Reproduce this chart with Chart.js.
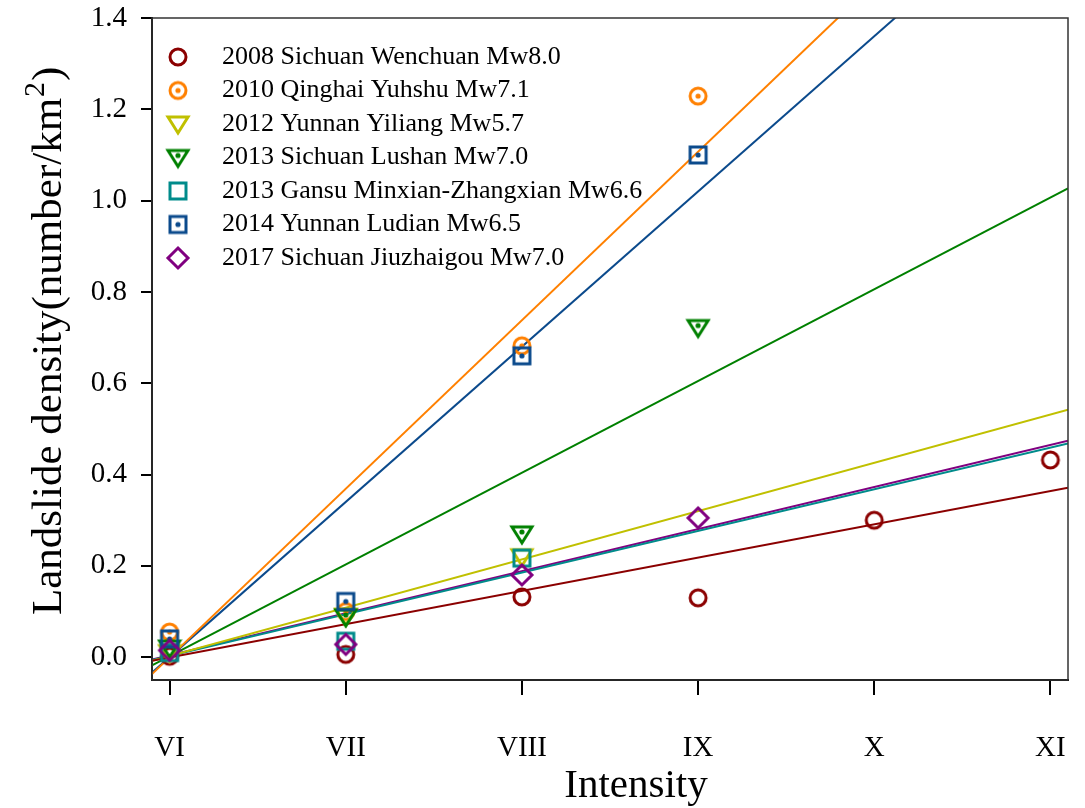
<!DOCTYPE html>
<html>
<head>
<meta charset="utf-8">
<title>Landslide density vs intensity</title>
<script src="https://cdn.jsdelivr.net/npm/chart.js@4.4.0/dist/chart.umd.min.js"></script>
<style>
  html, body { margin: 0; padding: 0; background: #fff; }
</style>
</head>
<body>
<canvas id="chart" width="1085" height="808"></canvas>
<script>
// axes
const intensityLabels = ['VI', 'VII', 'VIII', 'IX', 'X', 'XI'];
const intensityValues = [6, 7, 8, 9, 10, 11];
const densityTicks = [0, 0.2, 0.4, 0.6, 0.8, 1.0, 1.2, 1.4];
const xTitle = 'Intensity';
const yTitle = 'Landslide density(number/km';   // followed by superscript 2 and ')'

// earthquakes
const quakeNames = [
  '2008 Sichuan Wenchuan Mw8.0',
  '2010 Qinghai Yuhshu Mw7.1',
  '2012 Yunnan Yiliang Mw5.7',
  '2013 Sichuan Lushan Mw7.0',
  '2013 Gansu Minxian-Zhangxian Mw6.6',
  '2014 Yunnan Ludian Mw6.5',
  '2017 Sichuan Jiuzhaigou Mw7.0'
];
const quakeColors = ['#8b0000', '#ff8000', '#c0c000', '#008000', '#008b8b', '#0b4a8c', '#800080'];

// landslide density per intensity, starting at VI
const wenchuan   = [0.002, 0.006, 0.132, 0.130, 0.300, 0.432];
const yushu      = [0.055, 0.100, 0.682, 1.229];
const yiliang    = [0.010, 0.090, 0.220];
const lushan     = [0.020, 0.088, 0.270, 0.722];
const minxian    = [0.010, 0.035, 0.217];
const ludian     = [0.040, 0.122, 0.660, 1.100];
const jiuzhaigou = [0.015, 0.028, 0.180, 0.305];

// linear fits: value at the left and right ends of the x axis
const fitX = [5.9, 11.1];
const fitWenchuan   = [-0.008, 0.371];
const fitYushu      = [-0.037, 1.882];
const fitYiliang    = [-0.008, 0.542];
const fitLushan     = [-0.018, 1.027];
const fitMinxian    = [-0.006, 0.468];
const fitLudian     = [-0.034, 1.734];
const fitJiuzhaigou = [-0.005, 0.474];

const pointSeries = [wenchuan, yushu, yiliang, lushan, minxian, ludian, jiuzhaigou];
const fitSeries = [fitWenchuan, fitYushu, fitYiliang, fitLushan, fitMinxian, fitLudian, fitJiuzhaigou];
const markerShapes = ['circle', 'circle', 'triangle', 'triangle', 'square', 'square', 'diamond'];
const markerDots = [false, true, false, true, false, true, false];

const serif = "'Liberation Serif', 'Times New Roman', serif";

// open marker drawn onto a small canvas, used as pointStyle and in the legend
function makeMarker(shape, color, dot) {
  const size = 26;
  const c = document.createElement('canvas');
  c.width = size; c.height = size;
  const g = c.getContext('2d');
  g.translate(size / 2, size / 2);
  g.strokeStyle = color;
  g.fillStyle = color;
  g.lineWidth = 3;
  g.beginPath();
  if (shape === 'circle') {
    g.arc(0, 0, 8, 0, Math.PI * 2);
  } else if (shape === 'square') {
    g.rect(-8, -8, 16, 16);
  } else if (shape === 'triangle') {
    g.moveTo(-10, -7); g.lineTo(10, -7); g.lineTo(0, 9); g.closePath();
  } else if (shape === 'diamond') {
    g.moveTo(0, -10); g.lineTo(10, 0); g.lineTo(0, 10); g.lineTo(-10, 0); g.closePath();
  }
  g.stroke();
  if (dot) {
    g.beginPath();
    g.arc(0, shape === 'triangle' ? -2 : 0, 2.6, 0, Math.PI * 2);
    g.fill();
  }
  return c;
}

const markers = quakeNames.map((_, i) => makeMarker(markerShapes[i], quakeColors[i], markerDots[i]));

const datasets = [];
quakeNames.forEach((name, i) => {
  datasets.push({
    label: name,
    data: pointSeries[i].map((v, k) => ({ x: intensityValues[k], y: v })),
    pointStyle: markers[i],
    showLine: false,
    order: 10 - i
  });
});
quakeNames.forEach((name, i) => {
  datasets.push({
    label: name + ' fit',
    data: fitX.map((x, k) => ({ x: x, y: fitSeries[i][k] })),
    showLine: true,
    borderColor: quakeColors[i],
    borderWidth: 2,
    pointRadius: 0,
    order: 20 + i
  });
});

// legend placed inside the top-left of the plot
const insideLegend = {
  id: 'insideLegend',
  afterDraw(chart) {
    const ctx = chart.ctx;
    const area = chart.chartArea;
    ctx.save();
    ctx.font = '26px ' + serif;
    ctx.fillStyle = '#000';
    ctx.textBaseline = 'middle';
    quakeNames.forEach((name, i) => {
      const y = area.top + 39 + i * 33.5;
      const m = markers[i];
      ctx.drawImage(m, area.left + 26 - m.width / 2, y - m.height / 2);
      ctx.fillText(name, area.left + 70, y);
    });
    ctx.restore();
  }
};

// axis titles, the y title carries a raised "2"
const axisTitles = {
  id: 'axisTitles',
  afterDraw(chart) {
    const ctx = chart.ctx;
    ctx.save();
    ctx.fillStyle = '#000';
    ctx.textBaseline = 'alphabetic';
    ctx.font = '41px ' + serif;
    ctx.textAlign = 'center';
    ctx.fillText(xTitle, 636, 797);

    ctx.translate(61, 615);
    ctx.rotate(-Math.PI / 2);
    ctx.textAlign = 'left';
    ctx.font = '43px ' + serif;
    ctx.fillText(yTitle, 0, 0);
    let w = ctx.measureText(yTitle).width;
    ctx.font = '30px ' + serif;
    ctx.fillText('2', w + 1, -17);
    w += ctx.measureText('2').width + 2;
    ctx.font = '43px ' + serif;
    ctx.fillText(')', w, 0);
    ctx.restore();
  }
};

// thin frame around the plot area
const plotFrame = {
  id: 'plotFrame',
  afterDatasetsDraw(chart) {
    const { ctx, chartArea: a } = chart;
    ctx.save();
    ctx.strokeStyle = '#333';
    ctx.lineWidth = 1.5;
    ctx.strokeRect(a.left, a.top, a.right - a.left, a.bottom - a.top);
    ctx.restore();
  }
};

new Chart(document.getElementById('chart'), {
  type: 'scatter',
  data: { datasets: datasets },
  plugins: [plotFrame, insideLegend, axisTitles],
  options: {
    responsive: false,
    animation: false,
    devicePixelRatio: 1,
    layout: { padding: { left: 0, right: 17, top: 18, bottom: 0 } },
    plugins: {
      legend: { display: false },
      tooltip: { enabled: false }
    },
    scales: {
      x: {
        type: 'linear',
        min: 5.9,
        max: 11.1,
        afterFit(s) {
          s.height = 128;
          s.paddingLeft = 0; s.paddingRight = 0;
        },
        afterBuildTicks(s) { s.ticks = intensityValues.map(v => ({ value: v })); },
        ticks: {
          padding: 36,
          color: '#000',
          font: { family: serif, size: 29 },
          callback: v => intensityLabels[intensityValues.indexOf(v)]
        },
        grid: { drawOnChartArea: false, drawTicks: true, tickLength: 15, color: '#000', lineWidth: 2 },
        border: { display: true, color: '#000', width: 2 }
      },
      y: {
        type: 'linear',
        min: -0.05,
        max: 1.4,
        afterFit(s) {
          s.width = 152;
          s.paddingTop = 0; s.paddingBottom = 0;
        },
        afterBuildTicks(s) { s.ticks = densityTicks.map(v => ({ value: v })); },
        ticks: {
          padding: 14,
          color: '#000',
          font: { family: serif, size: 29 },
          callback: v => v.toFixed(1)
        },
        grid: { drawOnChartArea: false, drawTicks: true, tickLength: 11, color: '#000', lineWidth: 2 },
        border: { display: true, color: '#000', width: 2 }
      }
    }
  }
});
</script>
</body>
</html>
